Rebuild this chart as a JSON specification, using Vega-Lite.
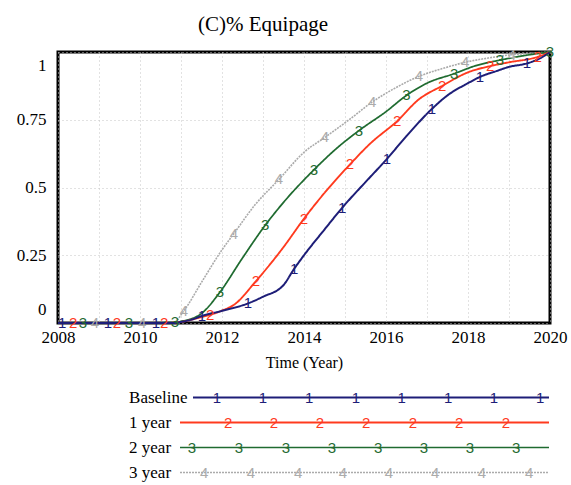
{
  "$schema": "https://vega.github.io/schema/vega-lite/v6.json",
  "background": "white",
  "padding": {"left": 14, "top": 12, "right": 5, "bottom": 5},
  "bounds": "flush",
  "spacing": 62,
  "datasets": {
    "curves": [
      {"s": "3 year", "t": 2008, "v": 0},
      {"s": "3 year", "t": 2008.9, "v": 0, "m": "4"},
      {"s": "3 year", "t": 2009.5, "v": 0},
      {"s": "3 year", "t": 2010.05, "v": 0, "m": "4"},
      {"s": "3 year", "t": 2010.8, "v": 0},
      {"s": "3 year", "t": 2011.07, "v": 0.045, "m": "4"},
      {"s": "3 year", "t": 2011.5, "v": 0.15},
      {"s": "3 year", "t": 2012, "v": 0.27},
      {"s": "3 year", "t": 2012.29, "v": 0.33, "m": "4"},
      {"s": "3 year", "t": 2012.8, "v": 0.435},
      {"s": "3 year", "t": 2013.39, "v": 0.53, "m": "4"},
      {"s": "3 year", "t": 2014, "v": 0.63},
      {"s": "3 year", "t": 2014.51, "v": 0.685, "m": "4"},
      {"s": "3 year", "t": 2015.1, "v": 0.75},
      {"s": "3 year", "t": 2015.66, "v": 0.815, "m": "4"},
      {"s": "3 year", "t": 2016.2, "v": 0.865},
      {"s": "3 year", "t": 2016.8, "v": 0.91, "m": "4"},
      {"s": "3 year", "t": 2017.4, "v": 0.94},
      {"s": "3 year", "t": 2017.93, "v": 0.962, "m": "4"},
      {"s": "3 year", "t": 2018.5, "v": 0.978},
      {"s": "3 year", "t": 2019.07, "v": 0.99, "m": "4"},
      {"s": "3 year", "t": 2019.6, "v": 0.996},
      {"s": "3 year", "t": 2020, "v": 1},

      {"s": "2 year", "t": 2008, "v": 0},
      {"s": "2 year", "t": 2008.61, "v": 0, "m": "3"},
      {"s": "2 year", "t": 2009, "v": 0},
      {"s": "2 year", "t": 2009.73, "v": 0, "m": "3"},
      {"s": "2 year", "t": 2010, "v": 0},
      {"s": "2 year", "t": 2010.85, "v": 0.002, "m": "3"},
      {"s": "2 year", "t": 2011, "v": 0.006},
      {"s": "2 year", "t": 2011.5, "v": 0.035},
      {"s": "2 year", "t": 2011.95, "v": 0.114, "m": "3"},
      {"s": "2 year", "t": 2012.5, "v": 0.24},
      {"s": "2 year", "t": 2013.05, "v": 0.36, "m": "3"},
      {"s": "2 year", "t": 2013.5, "v": 0.445},
      {"s": "2 year", "t": 2014.24, "v": 0.565, "m": "3"},
      {"s": "2 year", "t": 2014.8, "v": 0.645},
      {"s": "2 year", "t": 2015.34, "v": 0.71, "m": "3"},
      {"s": "2 year", "t": 2016, "v": 0.78},
      {"s": "2 year", "t": 2016.5, "v": 0.84, "m": "3"},
      {"s": "2 year", "t": 2017, "v": 0.885},
      {"s": "2 year", "t": 2017.66, "v": 0.92, "m": "3"},
      {"s": "2 year", "t": 2018.2, "v": 0.95},
      {"s": "2 year", "t": 2018.78, "v": 0.97, "m": "3"},
      {"s": "2 year", "t": 2019.3, "v": 0.985},
      {"s": "2 year", "t": 2020, "v": 1, "m": "3"},

      {"s": "1 year", "t": 2008, "v": 0},
      {"s": "1 year", "t": 2008.37, "v": 0, "m": "2"},
      {"s": "1 year", "t": 2009, "v": 0},
      {"s": "1 year", "t": 2009.44, "v": 0, "m": "2"},
      {"s": "1 year", "t": 2010, "v": 0},
      {"s": "1 year", "t": 2010.59, "v": 0, "m": "2"},
      {"s": "1 year", "t": 2011, "v": 0.004},
      {"s": "1 year", "t": 2011.5, "v": 0.022},
      {"s": "1 year", "t": 2011.71, "v": 0.03, "m": "2"},
      {"s": "1 year", "t": 2012, "v": 0.046},
      {"s": "1 year", "t": 2012.3, "v": 0.068},
      {"s": "1 year", "t": 2012.83, "v": 0.155, "m": "2"},
      {"s": "1 year", "t": 2013, "v": 0.185},
      {"s": "1 year", "t": 2013.5, "v": 0.28},
      {"s": "1 year", "t": 2014, "v": 0.385, "m": "2"},
      {"s": "1 year", "t": 2014.5, "v": 0.48},
      {"s": "1 year", "t": 2015.12, "v": 0.585, "m": "2"},
      {"s": "1 year", "t": 2015.6, "v": 0.66},
      {"s": "1 year", "t": 2016.27, "v": 0.745, "m": "2"},
      {"s": "1 year", "t": 2016.8, "v": 0.825},
      {"s": "1 year", "t": 2017.37, "v": 0.875, "m": "2"},
      {"s": "1 year", "t": 2018, "v": 0.925},
      {"s": "1 year", "t": 2018.54, "v": 0.948, "m": "2"},
      {"s": "1 year", "t": 2019, "v": 0.962},
      {"s": "1 year", "t": 2019.7, "v": 0.982, "m": "2"},
      {"s": "1 year", "t": 2020, "v": 1},

      {"s": "Baseline", "t": 2008, "v": 0},
      {"s": "Baseline", "t": 2008.1, "v": 0, "m": "1"},
      {"s": "Baseline", "t": 2009, "v": 0},
      {"s": "Baseline", "t": 2009.22, "v": 0, "m": "1"},
      {"s": "Baseline", "t": 2010, "v": 0},
      {"s": "Baseline", "t": 2010.39, "v": 0, "m": "1"},
      {"s": "Baseline", "t": 2010.8, "v": 0},
      {"s": "Baseline", "t": 2011, "v": 0.004},
      {"s": "Baseline", "t": 2011.25, "v": 0.012},
      {"s": "Baseline", "t": 2011.51, "v": 0.026, "m": "1"},
      {"s": "Baseline", "t": 2012, "v": 0.045},
      {"s": "Baseline", "t": 2012.63, "v": 0.072, "m": "1"},
      {"s": "Baseline", "t": 2013, "v": 0.097},
      {"s": "Baseline", "t": 2013.5, "v": 0.14},
      {"s": "Baseline", "t": 2013.76, "v": 0.2, "m": "1"},
      {"s": "Baseline", "t": 2014, "v": 0.25},
      {"s": "Baseline", "t": 2014.5, "v": 0.345},
      {"s": "Baseline", "t": 2014.93, "v": 0.425, "m": "1"},
      {"s": "Baseline", "t": 2015.5, "v": 0.52},
      {"s": "Baseline", "t": 2016.02, "v": 0.605, "m": "1"},
      {"s": "Baseline", "t": 2016.5, "v": 0.69},
      {"s": "Baseline", "t": 2017.12, "v": 0.79, "m": "1"},
      {"s": "Baseline", "t": 2017.5, "v": 0.84},
      {"s": "Baseline", "t": 2018, "v": 0.885},
      {"s": "Baseline", "t": 2018.29, "v": 0.908, "m": "1"},
      {"s": "Baseline", "t": 2018.7, "v": 0.93},
      {"s": "Baseline", "t": 2019, "v": 0.945},
      {"s": "Baseline", "t": 2019.44, "v": 0.958, "m": "1"},
      {"s": "Baseline", "t": 2019.8, "v": 0.98},
      {"s": "Baseline", "t": 2020, "v": 1}
    ],
    "legendLines": [
      {"s": "Baseline", "from": 0.28, "to": 7.97},
      {"s": "1 year", "from": 0, "to": 7.97},
      {"s": "2 year", "from": 0, "to": 7.97},
      {"s": "3 year", "from": 0, "to": 7.97}
    ],
    "legendMarks": [
      {"s": "Baseline", "p": 0.8, "m": "1"},
      {"s": "Baseline", "p": 1.79, "m": "1"},
      {"s": "Baseline", "p": 2.79, "m": "1"},
      {"s": "Baseline", "p": 3.8, "m": "1"},
      {"s": "Baseline", "p": 4.79, "m": "1"},
      {"s": "Baseline", "p": 5.79, "m": "1"},
      {"s": "Baseline", "p": 6.78, "m": "1"},
      {"s": "Baseline", "p": 7.78, "m": "1"},
      {"s": "1 year", "p": 1.04, "m": "2"},
      {"s": "1 year", "p": 2.03, "m": "2"},
      {"s": "1 year", "p": 3.02, "m": "2"},
      {"s": "1 year", "p": 4.02, "m": "2"},
      {"s": "1 year", "p": 5.03, "m": "2"},
      {"s": "1 year", "p": 6.03, "m": "2"},
      {"s": "1 year", "p": 7.04, "m": "2"},
      {"s": "2 year", "p": 0.26, "m": "3"},
      {"s": "2 year", "p": 1.27, "m": "3"},
      {"s": "2 year", "p": 2.29, "m": "3"},
      {"s": "2 year", "p": 3.28, "m": "3"},
      {"s": "2 year", "p": 4.28, "m": "3"},
      {"s": "2 year", "p": 5.27, "m": "3"},
      {"s": "2 year", "p": 6.26, "m": "3"},
      {"s": "2 year", "p": 7.26, "m": "3"},
      {"s": "3 year", "p": 0.52, "m": "4"},
      {"s": "3 year", "p": 1.53, "m": "4"},
      {"s": "3 year", "p": 2.55, "m": "4"},
      {"s": "3 year", "p": 3.52, "m": "4"},
      {"s": "3 year", "p": 4.51, "m": "4"},
      {"s": "3 year", "p": 5.51, "m": "4"},
      {"s": "3 year", "p": 6.52, "m": "4"},
      {"s": "3 year", "p": 7.54, "m": "4"}
    ],
    "legendNames": [
      {"s": "Baseline"},
      {"s": "1 year"},
      {"s": "2 year"},
      {"s": "3 year"}
    ]
  },
  "vconcat": [
    {
      "width": 492,
      "height": 271,
      "view": {"stroke": "black", "strokeWidth": 3, "fill": "white"},
      "title": {
        "text": "(C)% Equipage",
        "font": "Liberation Serif",
        "fontSize": 21,
        "fontWeight": "normal",
        "color": "black",
        "anchor": "middle",
        "dx": -41,
        "baseline": "alphabetic",
        "offset": -7
      },
      "data": {"name": "curves"},
      "encoding": {
        "x": {
          "field": "t",
          "type": "quantitative",
          "scale": {"domain": [2008, 2020], "nice": false, "zero": false},
          "axis": {
            "title": "Time (Year)",
            "values": [2008, 2009, 2010, 2011, 2012, 2013, 2014, 2015, 2016, 2017, 2018, 2019, 2020],
            "labelExpr": "datum.value % 2 == 0 ? '' + datum.value : ''",
            "labelFont": "Liberation Serif",
            "labelFontSize": 17,
            "labelColor": "black",
            "labelPadding": 6,
            "labelFlush": false,
            "labelOverlap": false,
            "ticks": false,
            "domain": false,
            "grid": true,
            "gridColor": "#c4c4c4",
            "gridDash": [1, 3],
            "gridWidth": 1,
            "titleFont": "Liberation Serif",
            "titleFontSize": 16,
            "titleFontWeight": "normal",
            "titleColor": "black",
            "titlePadding": 9
          }
        },
        "y": {
          "field": "v",
          "type": "quantitative",
          "scale": {"domain": [0, 1], "nice": false},
          "axis": {
            "title": null,
            "values": [0, 0.25, 0.5, 0.75, 1],
            "labelExpr": "'' + datum.value",
            "labelFont": "Liberation Serif",
            "labelFontSize": 17,
            "labelColor": "black",
            "labelPadding": 12,
            "labelFlush": true,
            "labelFlushOffset": -5,
            "ticks": false,
            "domain": false,
            "grid": true,
            "gridColor": "#c4c4c4",
            "gridDash": [1, 3],
            "gridWidth": 1
          }
        },
        "color": {
          "field": "s",
          "type": "nominal",
          "scale": {
            "domain": ["Baseline", "1 year", "2 year", "3 year"],
            "range": ["#1e1e78", "#ff3a1e", "#1f6b30", "#ababab"]
          },
          "legend": null
        }
      },
      "layer": [
        {
          "mark": {"type": "line", "interpolate": "monotone", "clip": false},
          "encoding": {
            "strokeWidth": {
              "field": "s",
              "type": "nominal",
              "scale": {"domain": ["Baseline", "1 year", "2 year", "3 year"], "range": [2, 1.6, 2, 1]},
              "legend": null
            },
            "strokeDash": {
              "field": "s",
              "type": "nominal",
              "scale": {"domain": ["Baseline", "1 year", "2 year", "3 year"], "range": [[1, 0], [1, 0], [1, 0], [2, 1]]},
              "legend": null
            },
            "order": {"field": "t", "type": "quantitative"}
          }
        },
        {
          "transform": [{"filter": "datum.m != null"}],
          "mark": {"type": "text", "font": "Liberation Sans", "baseline": "middle", "align": "center"},
          "encoding": {
            "text": {"field": "m", "type": "nominal"},
            "size": {
              "field": "s",
              "type": "nominal",
              "scale": {"domain": ["Baseline", "1 year", "2 year", "3 year"], "range": [15, 15, 15, 11]},
              "legend": null
            }
          }
        }
      ]
    },
    {
      "width": 492,
      "height": 100,
      "view": {"stroke": null},
      "layer": [
        {
          "data": {"name": "legendLines"},
          "mark": {"type": "rule"},
          "encoding": {
            "x": {"field": "from", "type": "quantitative", "scale": {"domain": [-2.635, 7.991], "nice": false, "zero": false}, "axis": null},
            "x2": {"field": "to"},
            "y": {"field": "s", "type": "nominal", "scale": {"type": "point", "domain": ["Baseline", "1 year", "2 year", "3 year"], "padding": 0.5}, "axis": null},
            "color": {
              "field": "s",
              "type": "nominal",
              "scale": {"domain": ["Baseline", "1 year", "2 year", "3 year"], "range": ["#1e1e78", "#ff3a1e", "#1f6b30", "#ababab"]},
              "legend": null
            },
            "strokeWidth": {
              "field": "s",
              "type": "nominal",
              "scale": {"domain": ["Baseline", "1 year", "2 year", "3 year"], "range": [2, 1.6, 2, 1]},
              "legend": null
            },
            "strokeDash": {
              "field": "s",
              "type": "nominal",
              "scale": {"domain": ["Baseline", "1 year", "2 year", "3 year"], "range": [[1, 0], [1, 0], [1, 0], [2, 1]]},
              "legend": null
            }
          }
        },
        {
          "data": {"name": "legendMarks"},
          "mark": {"type": "text", "font": "Liberation Sans", "baseline": "middle", "align": "center"},
          "encoding": {
            "x": {"field": "p", "type": "quantitative"},
            "y": {"field": "s", "type": "nominal"},
            "text": {"field": "m", "type": "nominal"},
            "color": {"field": "s", "type": "nominal", "legend": null},
            "size": {
              "field": "s",
              "type": "nominal",
              "scale": {"domain": ["Baseline", "1 year", "2 year", "3 year"], "range": [15, 15, 15, 11]},
              "legend": null
            }
          }
        },
        {
          "data": {"name": "legendNames"},
          "mark": {"type": "text", "font": "Liberation Serif", "fontSize": 17, "align": "left", "baseline": "middle", "color": "black"},
          "encoding": {
            "x": {"datum": -1.1, "type": "quantitative"},
            "y": {"field": "s", "type": "nominal"},
            "text": {"field": "s", "type": "nominal"}
          }
        }
      ]
    }
  ]
}
